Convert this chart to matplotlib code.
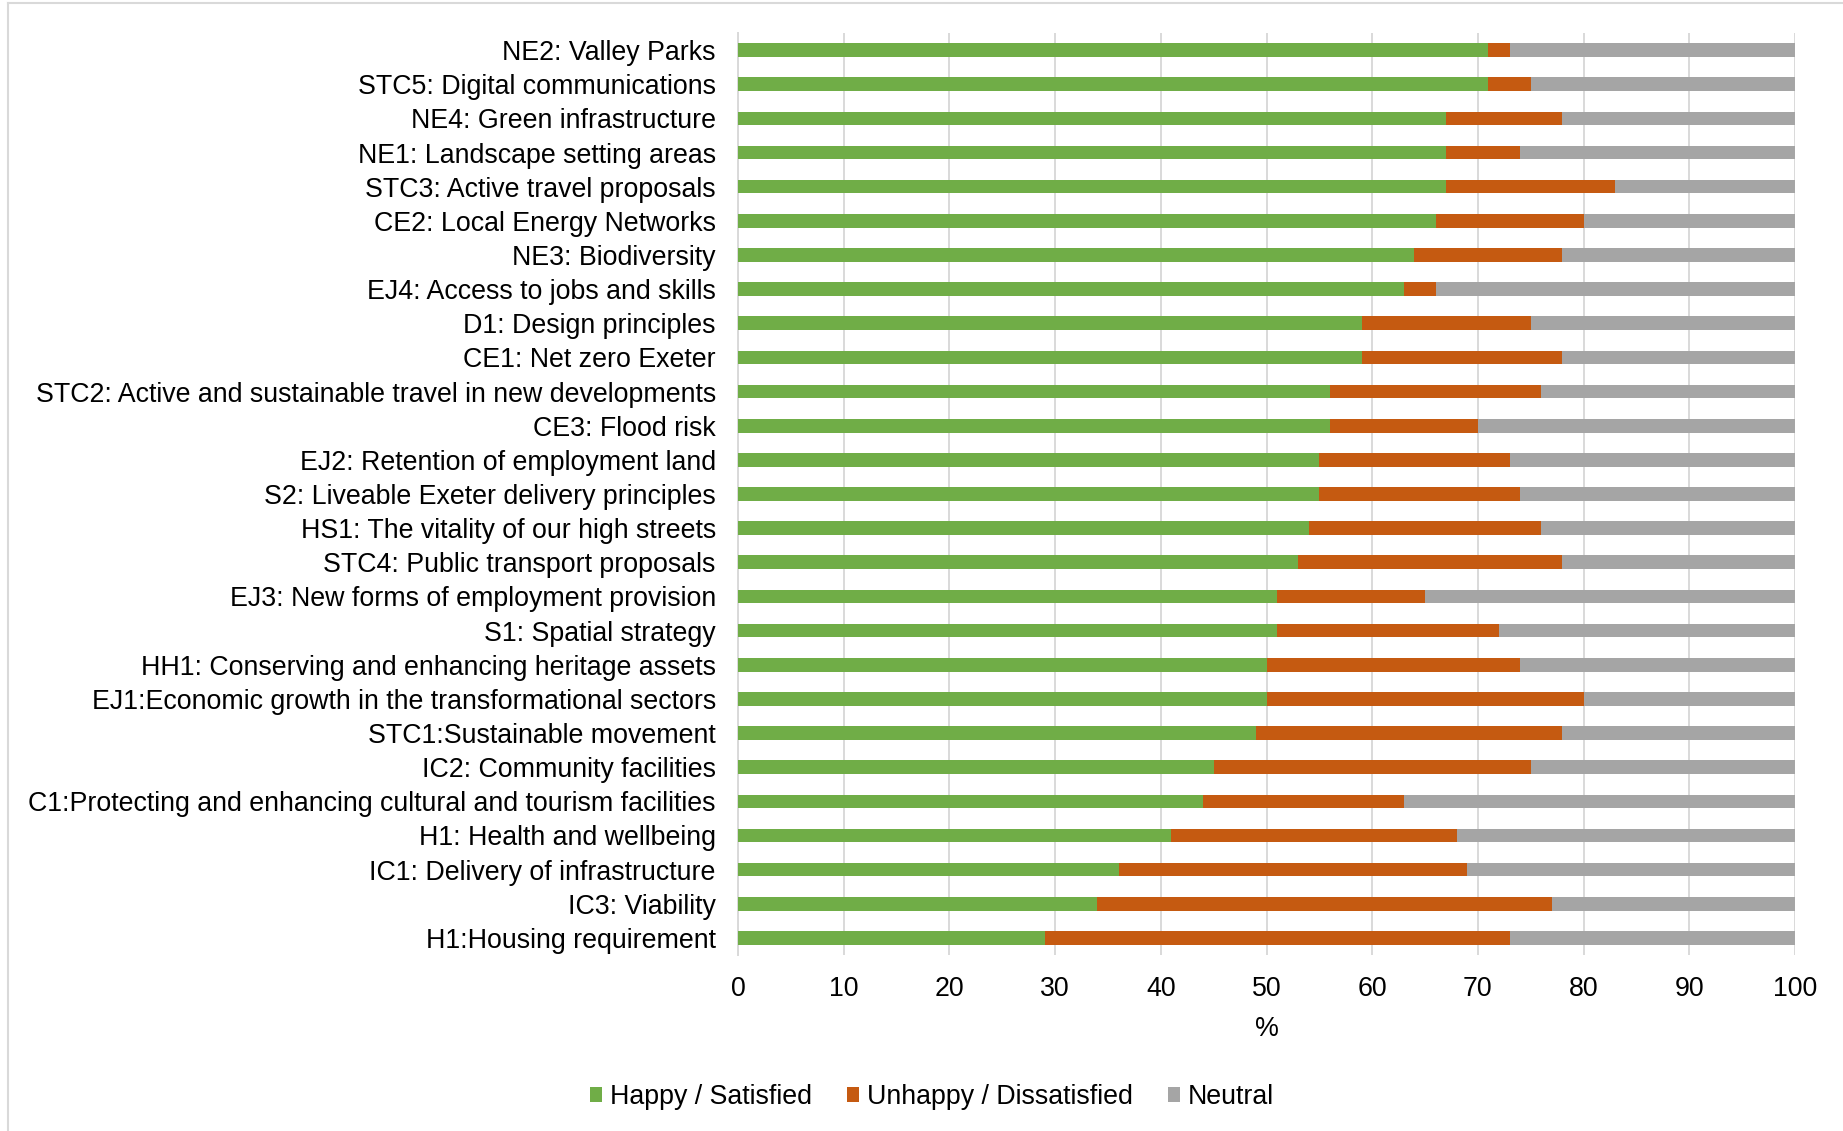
import matplotlib
matplotlib.use("Agg")
import matplotlib.pyplot as plt
from matplotlib.lines import Line2D
import numpy as np

plt.rcParams['font.family'] = ['Liberation Sans', 'DejaVu Sans']

# Policies, listed top to bottom
policies = [
    "NE2: Valley Parks",
    "STC5: Digital communications",
    "NE4: Green infrastructure",
    "NE1: Landscape setting areas",
    "STC3: Active travel proposals",
    "CE2: Local Energy Networks",
    "NE3: Biodiversity",
    "EJ4: Access to jobs and skills",
    "D1: Design principles",
    "CE1: Net zero Exeter",
    "STC2: Active and sustainable travel in new developments",
    "CE3: Flood risk",
    "EJ2: Retention of employment land",
    "S2: Liveable Exeter delivery principles",
    "HS1: The vitality of our high streets",
    "STC4: Public transport proposals",
    "EJ3: New forms of employment provision",
    "S1: Spatial strategy",
    "HH1: Conserving and enhancing heritage assets",
    "EJ1:Economic growth in the transformational sectors",
    "STC1:Sustainable movement",
    "IC2: Community facilities",
    "C1:Protecting and enhancing cultural and tourism facilities",
    "H1: Health and wellbeing",
    "IC1: Delivery of infrastructure",
    "IC3: Viability",
    "H1:Housing requirement",
]

# Share of responses (%)
happy = [71, 71, 67, 67, 67, 66, 64, 63, 59, 59, 56, 56, 55, 55, 54, 53, 51,
         51, 50, 50, 49, 45, 44, 41, 36, 34, 29]
unhappy = [2, 4, 11, 7, 16, 14, 14, 3, 16, 19, 20, 14, 18, 19, 22, 25, 14,
           21, 24, 30, 29, 30, 19, 27, 33, 43, 44]
neutral = [100 - h - u for h, u in zip(happy, unhappy)]

series_names = ["Happy / Satisfied", "Unhappy / Dissatisfied", "Neutral"]
colors = ["#70AD47", "#C55A11", "#A5A5A5"]
x_ticks = list(range(0, 101, 10))

FS = 19.3

W, H = 1843, 1131
fig = plt.figure(figsize=(W / 100, H / 100), dpi=100)
ax = fig.add_axes([738 / W, 1 - 955 / H, (1795 - 738) / W, (955 - 33) / H])

y = np.arange(len(policies))
left = np.zeros(len(policies))
for vals, name, col in zip([happy, unhappy, neutral], series_names, colors):
    ax.barh(y, vals, left=left, height=0.4, color=col, label=name, zorder=3)
    left += np.array(vals)

ax.set_ylim(len(policies) - 0.5, -0.5)
ax.set_xlim(0, 100)
ax.set_xticks(x_ticks)
ax.set_yticks(y)
ax.set_yticklabels(policies)
ax.tick_params(axis='both', length=0, labelsize=FS, colors='#000000')
ax.tick_params(axis='y', pad=16)
ax.tick_params(axis='x', pad=15)
ax.grid(axis='x', color='#D9D9D9', linewidth=1.4, zorder=0)
for s in ['top', 'right', 'bottom']:
    ax.spines[s].set_visible(False)
ax.spines['left'].set_color('#D9D9D9')
ax.spines['left'].set_linewidth(1.4)
ax.set_xlabel('%', fontsize=FS, labelpad=10)

fig.legend(loc='center', bbox_to_anchor=(932 / W, 1 - 1097 / H), ncol=3,
           frameon=False, fontsize=FS, handlelength=0.45, handleheight=0.5,
           handletextpad=0.3, columnspacing=1.3)

# Chart area border
fig.add_artist(Line2D([8 / W, 1], [1 - 3 / H, 1 - 3 / H], color='#D9D9D9', linewidth=1.5))
fig.add_artist(Line2D([8 / W, 8 / W], [0, 1 - 3 / H], color='#D9D9D9', linewidth=1.5))

fig.savefig('out.png', dpi=100, facecolor='white')
